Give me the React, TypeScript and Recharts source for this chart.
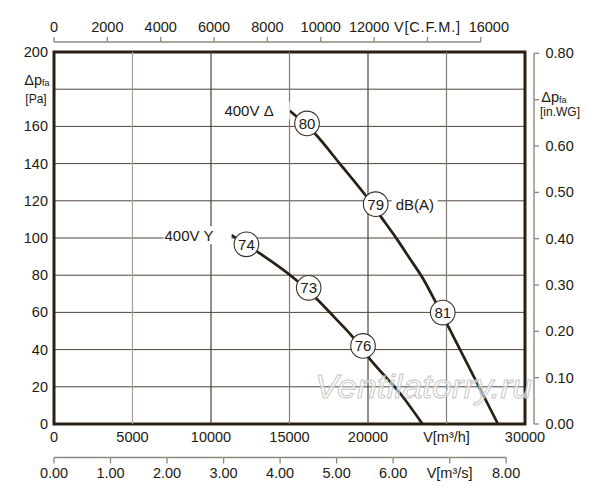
import React from 'react';
import {
  ComposedChart,
  Line,
  Scatter,
  XAxis,
  YAxis,
  CartesianGrid,
  ReferenceLine,
  ReferenceArea,
} from 'recharts';

// ---- data ----
const deltaFlow = [15010, 16600, 18200, 19790, 20850, 21810, 22660, 23500, 24250, 25100, 28280];
const deltaPressure = [168.4, 156.3, 140.0, 123.5, 111.1, 99.8, 89.0, 78.2, 66.5, 52.6, 0];
const starFlow = [11300, 13010, 15440, 16710, 17880, 19060, 20020, 22230, 23470];
const starPressure = [101.5, 92.3, 77.3, 67.5, 57.2, 46.5, 36.0, 14.5, 0];

const noiseLabels = ['80', '79', '81', '74', '73', '76'];
const noiseFlow = [16115, 20490, 24760, 12255, 16223, 19682];
const noisePressure = [161.6, 118.2, 59.9, 96.6, 73.2, 42.0];
const noiseNotes = ['', 'dB(A)', '', '', '', ''];

const curveNames = ['400V Δ', '400V Y'];

const flowTicks = [0, 5000, 10000, 15000, 20000, 25000, 30000];
const flowTickLabels = ['0', '5000', '10000', '15000', '20000', 'V[m³/h]', '30000'];
const gridFlow = [5000, 10000, 15000, 20000, 25000];
const pressureTicks = [0, 20, 40, 60, 80, 100, 120, 140, 160, 180, 200];
const pressureTickLabels = ['0', '20', '40', '60', '80', '100', '120', '140', '160', '[Pa]', '200'];
const cfmTicks = [0, 2000, 4000, 6000, 8000, 10000, 12000, 14000, 16000];
const cfmTickLabels = ['0', '2000', '4000', '6000', '8000', '10000', '12000', 'V[C.F.M.]', '16000'];
const m3sTicks = [0, 1, 2, 3, 4, 5, 6, 7, 8];
const m3sTickLabels = ['0.00', '1.00', '2.00', '3.00', '4.00', '5.00', '6.00', 'V[m³/s]', '8.00'];
const inwgTicks = [0, 0.1, 0.2, 0.3, 0.4, 0.5, 0.6, 0.7, 0.8];
const inwgTickLabels = ['0.00', '0.10', '0.20', '0.30', '0.40', '0.50', '0.60', '[in.WG]', '0.80'];

// unit conversions
const M3H_PER_CFM = 1.699011;
const M3H_PER_M3S = 3600;
const PA_PER_INWG = 249.0889;
const FLOW_MAX = 30000;
const PRESSURE_MAX = 200;

// ---- tables ----
const deltaData = deltaFlow.map((q, i) => ({ q, p: deltaPressure[i] }));
const starData = starFlow.map((q, i) => ({ q, p: starPressure[i] }));
const noiseData = noiseLabels.map((label, i) => ({
  q: noiseFlow[i],
  p: noisePressure[i],
  label,
  note: noiseNotes[i],
}));

// ---- styles ----
const FONT = '"Liberation Sans", Arial, Helvetica, sans-serif';
const TEXT = '#221910';
const AXIS_GRAY = '#8f877d';
const CURVE = '#2a1f14';
const BORDER = '#2a1f14';
const H_GRID = '#4f4539';
const V_GRID_COLORS = ['#a49e96', '#4b4135', '#857d73', '#4b4135', '#857d73'];
// small horizontal label nudges on the CFM axis (labels crowd around the unit text)
const CFM_LABEL_NUDGE: Record<number, number> = { 12000: -5, 16000: 8 };

const prevPos: Record<string, number> = {};
function trackPrev(key: string, index: number, pos: number) {
  const prev = index === 0 || prevPos[key] === undefined ? pos : prevPos[key];
  prevPos[key] = pos;
  return prev;
}

function tickIndex(ticks: number[], v: number) {
  let best = 0;
  ticks.forEach((t, i) => {
    if (Math.abs(t - v) < Math.abs(ticks[best] - v)) best = i;
  });
  return best;
}

const DeltaP = ({ x, y }: { x: number; y: number }) => (
  <text x={x} y={y} textAnchor="middle" dominantBaseline="central" fill={TEXT} fontFamily={FONT} fontSize={14.5}>
    <tspan>Δp</tspan>
    <tspan fontSize={9} dy={3}>fa</tspan>
  </text>
);

const FlowTick = (props: any) => {
  const { x, y, payload } = props;
  const label = flowTickLabels[tickIndex(flowTicks, payload.value)];
  return (
    <text x={x} y={y + 13} textAnchor="middle" dominantBaseline="central" fill={TEXT} fontFamily={FONT} fontSize={14.5}>
      {label}
    </text>
  );
};

const M3sTick = (props: any) => {
  const { x, y, payload, index } = props;
  const lineY = y - 0.5;
  const prev = trackPrev('m3s', index, x);
  const label = m3sTickLabels[tickIndex(m3sTicks, payload.value)];
  return (
    <g>
      {index > 0 && <line x1={prev} x2={x} y1={lineY} y2={lineY} stroke={AXIS_GRAY} strokeWidth={1.4} />}
      <line x1={x} x2={x} y1={lineY} y2={lineY + 6} stroke={AXIS_GRAY} strokeWidth={1.3} />
      <text x={x} y={y + 14.5} textAnchor="middle" dominantBaseline="central" fill={TEXT} fontFamily={FONT} fontSize={14.5}>
        {label}
      </text>
    </g>
  );
};

const CfmTick = (props: any) => {
  const { x, y, payload, index } = props;
  const lineY = y - 10;
  const prev = trackPrev('cfm', index, x);
  const ti = tickIndex(cfmTicks, payload.value);
  const label = cfmTickLabels[ti];
  const nudge = CFM_LABEL_NUDGE[cfmTicks[ti]] || 0;
  const isUnit = label.startsWith('V');
  return (
    <g>
      {index > 0 && <line x1={prev} x2={x} y1={lineY} y2={lineY} stroke={AXIS_GRAY} strokeWidth={1.4} />}
      <line x1={x} x2={x} y1={lineY} y2={lineY - 5} stroke={AXIS_GRAY} strokeWidth={1.3} />
      <text
        x={x + nudge}
        y={y - 25}
        textAnchor="middle"
        dominantBaseline="central"
        fill={TEXT}
        fontFamily={FONT}
        fontSize={14.5}
        letterSpacing={isUnit ? 0.8 : 0}
      >
        {label}
      </text>
    </g>
  );
};

const PaTick = (props: any) => {
  const { x, y, payload } = props;
  const label = pressureTickLabels[tickIndex(pressureTicks, payload.value)];
  if (label.startsWith('[')) {
    return (
      <g>
        <DeltaP x={x - 17} y={y - 9} />
        <text x={x - 18} y={y + 10} textAnchor="middle" dominantBaseline="central" fill={TEXT} fontFamily={FONT} fontSize={12}>
          {label}
        </text>
      </g>
    );
  }
  return (
    <text x={x - 6} y={y} textAnchor="end" dominantBaseline="central" fill={TEXT} fontFamily={FONT} fontSize={14.5}>
      {label}
    </text>
  );
};

const InwgTick = (props: any) => {
  const { x, y, payload, index } = props;
  const ax = x + 9;
  const prev = trackPrev('inwg', index, y);
  const label = inwgTickLabels[tickIndex(inwgTicks, payload.value)];
  const isUnit = label.startsWith('[');
  return (
    <g>
      {index > 0 && <line x1={ax} x2={ax} y1={prev} y2={y} stroke={AXIS_GRAY} strokeWidth={1.4} />}
      <line x1={ax} x2={ax + 5} y1={y} y2={y} stroke={AXIS_GRAY} strokeWidth={1.3} />
      {isUnit ? (
        <g>
          <DeltaP x={ax + 20} y={y - 3} />
          <text x={ax + 26} y={y + 12} textAnchor="middle" dominantBaseline="central" fill={TEXT} fontFamily={FONT} fontSize={12}>
            {label}
          </text>
        </g>
      ) : (
        <text x={ax + 11.5} y={y} textAnchor="start" dominantBaseline="central" fill={TEXT} fontFamily={FONT} fontSize={14.5}>
          {label}
        </text>
      )}
    </g>
  );
};

const NoiseMark = (props: any) => {
  const { cx, cy, payload } = props;
  if (cx == null || cy == null) return <g />;
  return (
    <g>
      <circle cx={cx} cy={cy} r={12.3} fill="#fff" stroke="#3b3128" strokeWidth={1.1} />
      <text x={cx} y={cy} textAnchor="middle" dominantBaseline="central" fill={TEXT} fontFamily={FONT} fontSize={15}>
        {payload.label}
      </text>
      {payload.note ? (
        <g>
          <rect x={cx + 16} y={cy - 9} width={46} height={18} fill="#fff" />
          <text x={cx + 20} y={cy} textAnchor="start" dominantBaseline="central" fill={TEXT} fontFamily={FONT} fontSize={15}>
            {payload.note}
          </text>
        </g>
      ) : null}
    </g>
  );
};

const makeCurveLabel = (name: string, gap: number, bgWidth: number) => (props: any) => {
  const { x, y, index } = props;
  if (index !== 0 || x == null || y == null) return <g />;
  return (
    <g>
      <rect x={x - gap - bgWidth + 2} y={y - 9} width={bgWidth + gap - 2} height={18} fill="#fff" />
      <text x={x - gap} y={y} textAnchor="end" dominantBaseline="central" fill={TEXT} fontFamily={FONT} fontSize={15}>
        {name}
      </text>
    </g>
  );
};

const axisCommon = {
  type: 'number' as const,
  interval: 0 as const,
  axisLine: false,
  tickLine: false,
  tickSize: 0,
  tickMargin: 0,
  allowDataOverflow: true,
};

export default function App() {
  return (
    <div style={{ position: 'absolute', left: 0, top: 0, width: 600, height: 500, background: '#fff' }}>
      <ComposedChart
        width={600}
        height={500}
        data={noiseData}
        margin={{ top: 0, right: 0, bottom: 0, left: 0 }}
      >
        <XAxis
          {...axisCommon}
          xAxisId="m3h"
          dataKey="q"
          domain={[0, FLOW_MAX]}
          ticks={flowTicks}
          orientation="bottom"
          height={34}
          tick={FlowTick}
        />
        <XAxis
          {...axisCommon}
          xAxisId="m3s"
          dataKey={(d: any) => d.q / M3H_PER_M3S}
          domain={[0, FLOW_MAX / M3H_PER_M3S]}
          ticks={m3sTicks}
          orientation="bottom"
          height={42}
          tick={M3sTick}
        />
        <XAxis
          {...axisCommon}
          xAxisId="cfm"
          dataKey={(d: any) => d.q / M3H_PER_CFM}
          domain={[0, FLOW_MAX / M3H_PER_CFM]}
          ticks={cfmTicks}
          orientation="top"
          height={52}
          tick={CfmTick}
        />
        <YAxis
          {...axisCommon}
          yAxisId="pa"
          dataKey="p"
          domain={[0, PRESSURE_MAX]}
          ticks={pressureTicks}
          width={54}
          tick={PaTick}
        />
        <YAxis
          {...axisCommon}
          yAxisId="inwg"
          dataKey={(d: any) => d.p / PA_PER_INWG}
          orientation="right"
          domain={[0, PRESSURE_MAX / PA_PER_INWG]}
          ticks={inwgTicks}
          width={75}
          tick={InwgTick}
        />
        <CartesianGrid xAxisId="m3h" yAxisId="pa" vertical={false} stroke={H_GRID} strokeWidth={1} />
        {gridFlow.map((v, i) => (
          <ReferenceLine key={v} xAxisId="m3h" yAxisId="pa" x={v} stroke={V_GRID_COLORS[i]} strokeWidth={1.2} />
        ))}
        <ReferenceArea
          xAxisId="m3h"
          yAxisId="pa"
          x1={0}
          x2={FLOW_MAX}
          y1={0}
          y2={PRESSURE_MAX}
          fill="none"
          fillOpacity={0}
          stroke={BORDER}
          strokeWidth={3}
        />
        <Line
          xAxisId="m3h"
          yAxisId="pa"
          data={deltaData}
          dataKey="p"
          type="monotone"
          stroke={CURVE}
          strokeWidth={2.7}
          dot={false}
          activeDot={false}
          isAnimationActive={false}
          label={makeCurveLabel(curveNames[0], 16, 52)}
        />
        <Line
          xAxisId="m3h"
          yAxisId="pa"
          data={starData}
          dataKey="p"
          type="monotone"
          stroke={CURVE}
          strokeWidth={2.7}
          dot={false}
          activeDot={false}
          isAnimationActive={false}
          label={makeCurveLabel(curveNames[1], 18, 52)}
        />
        <Scatter
          xAxisId="m3h"
          yAxisId="pa"
          data={noiseData}
          dataKey="p"
          shape={NoiseMark}
          isAnimationActive={false}
        />
      </ComposedChart>
      <svg
        width={600}
        height={500}
        style={{ position: 'absolute', left: 0, top: 0, pointerEvents: 'none' }}
      >
        <text
          x={315}
          y={398}
          fontFamily={FONT}
          fontStyle="italic"
          fontSize={33}
          textLength={217}
          lengthAdjust="spacingAndGlyphs"
          fill="rgba(255,255,255,0.55)"
          stroke="#c6c6c6"
          strokeWidth={0.9}
        >
          Ventilatorry.ru
        </text>
      </svg>
    </div>
  );
}
